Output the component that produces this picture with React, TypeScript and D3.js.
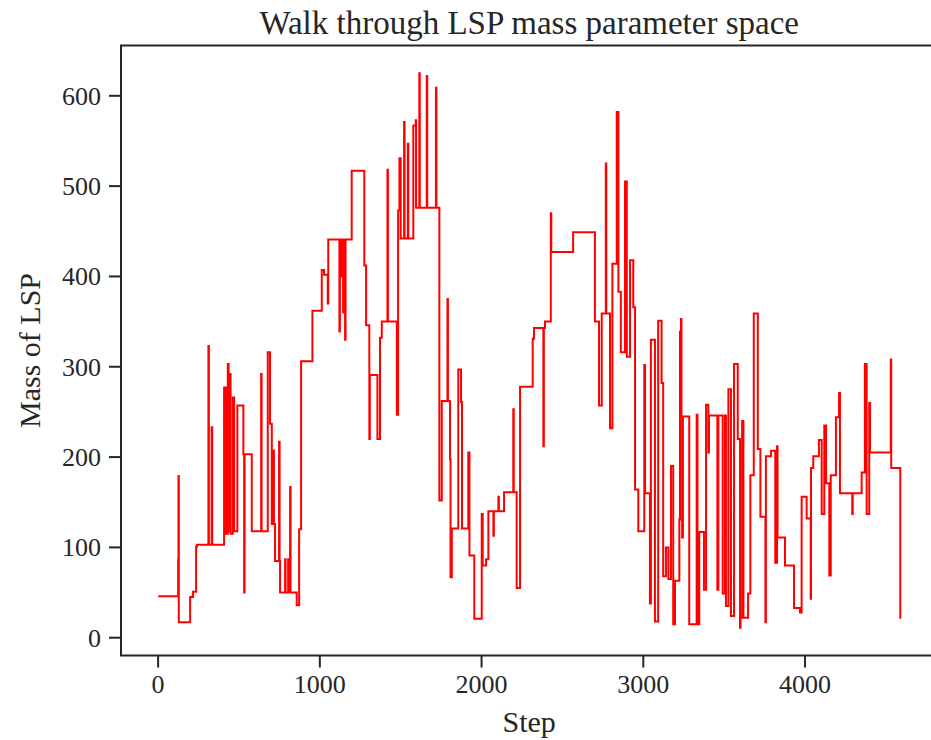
import React from "react";
import * as d3 from "d3";

const steps = [0,124,126,128,198,216,235,240,311,314,331,334,408,420,431,436,439,448,462,470,490,527,532,535,579,637,640,678,692,703,713,716,723,748,751,754,785,788,804,807,816,819,857,872,884,954,1012,1026,1049,1052,1121,1124,1131,1134,1144,1147,1156,1159,1197,1275,1286,1306,1309,1356,1372,1383,1418,1421,1476,1484,1492,1500,1521,1524,1544,1547,1578,1593,1595,1615,1618,1661,1664,1718,1721,1739,1754,1789,1792,1805,1808,1816,1856,1873,1879,1918,1925,1955,2001,2007,2028,2042,2073,2076,2104,2107,2139,2196,2199,2217,2238,2316,2324,2382,2385,2392,2428,2431,2566,2701,2726,2743,2768,2771,2794,2809,2836,2846,2861,2887,2898,2918,2938,2949,2969,3006,3011,3041,3047,3072,3092,3113,3123,3140,3155,3171,3185,3196,3223,3227,3233,3236,3240,3245,3284,3330,3335,3346,3361,3375,3388,3402,3406,3458,3464,3491,3505,3511,3526,3542,3561,3573,3584,3598,3601,3611,3619,3648,3662,3683,3708,3724,3755,3758,3790,3816,3827,3830,3876,3932,3969,3979,4010,4035,4037,4051,4086,4103,4119,4130,4150,4159,4191,4210,4216,4292,4295,4350,4370,4381,4397,4402,4530,4533,4589];

const masses = [46,87,179,17,45,51,101,103,323,103,233,103,277,115,303,118,292,115,266,118,257,203,50,203,118,292,118,316,237,126,207,126,85,217,85,50,87,50,87,50,167,50,36,120,306,362,407,402,370,441,339,441,400,441,360,441,330,441,517,412,346,220,291,220,332,350,518,350,247,473,531,442,571,442,547,442,567,573,476,625,476,622,476,609,476,152,262,375,262,198,67,121,297,261,121,205,91,21,137,80,87,140,113,140,156,140,161,253,161,55,278,331,343,212,343,350,470,427,449,350,257,359,525,359,232,414,582,383,316,505,311,418,366,164,118,302,160,38,330,18,351,282,68,100,65,190,15,63,131,339,353,245,111,245,15,247,15,117,117,53,258,205,246,53,246,49,246,35,275,24,303,303,220,11,22,240,22,49,180,359,209,134,17,201,207,83,212,111,80,33,28,156,132,43,188,201,219,137,235,171,69,180,244,271,160,137,160,183,303,137,260,205,308,188,21];

const xTicks = [0, 1000, 2000, 3000, 4000];
const yTicks = [0, 100, 200, 300, 400, 500, 600];

const titleText = "Walk through LSP mass parameter space";
const xLabel = "Step";
const yLabel = "Mass of LSP";

export default function App() {
  const W = 931, H = 740;
  const left = 121, right = 937.4, top = 45.5, bottom = 655.5;
  const x = d3.scaleLinear().domain([-229.45, 4818.45]).range([left, right]);
  const y = d3.scaleLinear().domain([-19.7, 655.7]).range([bottom, top]);
  const pts = steps.map((s, i) => [s, masses[i]] as [number, number]);
  const line = d3.line<[number, number]>()
    .x(d => x(d[0]))
    .y(d => y(d[1]))
    .curve(d3.curveStepAfter);
  const font = "'Liberation Serif', 'Times New Roman', serif";
  const ink = "#262626";
  return (
    <div style={{ position: "absolute", left: 0, top: 0 }}>
      <svg width={W} height={H} style={{ display: "block", background: "#fff" }} fontFamily={font}>
        <rect x={0} y={0} width={W} height={H} fill="#fff" />
        <path d={line(pts) || ""} fill="none" stroke="#ff0000" strokeWidth={2} strokeLinejoin="miter" />
        <rect x={left} y={top} width={right - left} height={bottom - top} fill="none" stroke={ink} strokeWidth={2} />
        {xTicks.map(t => (
          <g key={"x" + t}>
            <line x1={x(t)} x2={x(t)} y1={bottom} y2={bottom + 12} stroke={ink} strokeWidth={2} />
            <text x={x(t)} y={693} textAnchor="middle" fontSize={26} fill={ink}>{t}</text>
          </g>
        ))}
        {yTicks.map(t => (
          <g key={"y" + t}>
            <line x1={left - 12} x2={left} y1={y(t)} y2={y(t)} stroke={ink} strokeWidth={2} />
            <text x={101} y={y(t) + 9} textAnchor="end" fontSize={26} fill={ink}>{t}</text>
          </g>
        ))}
        <text x={(left + right) / 2} y={34} textAnchor="middle" fontSize={33} fill={ink}>{titleText}</text>
        <text x={(left + right) / 2} y={732} textAnchor="middle" fontSize={30} fill={ink}>{xLabel}</text>
        <text transform={`translate(40, ${(top + bottom) / 2}) rotate(-90)`} textAnchor="middle" fontSize={30} fill={ink}>{yLabel}</text>
      </svg>
    </div>
  );
}
